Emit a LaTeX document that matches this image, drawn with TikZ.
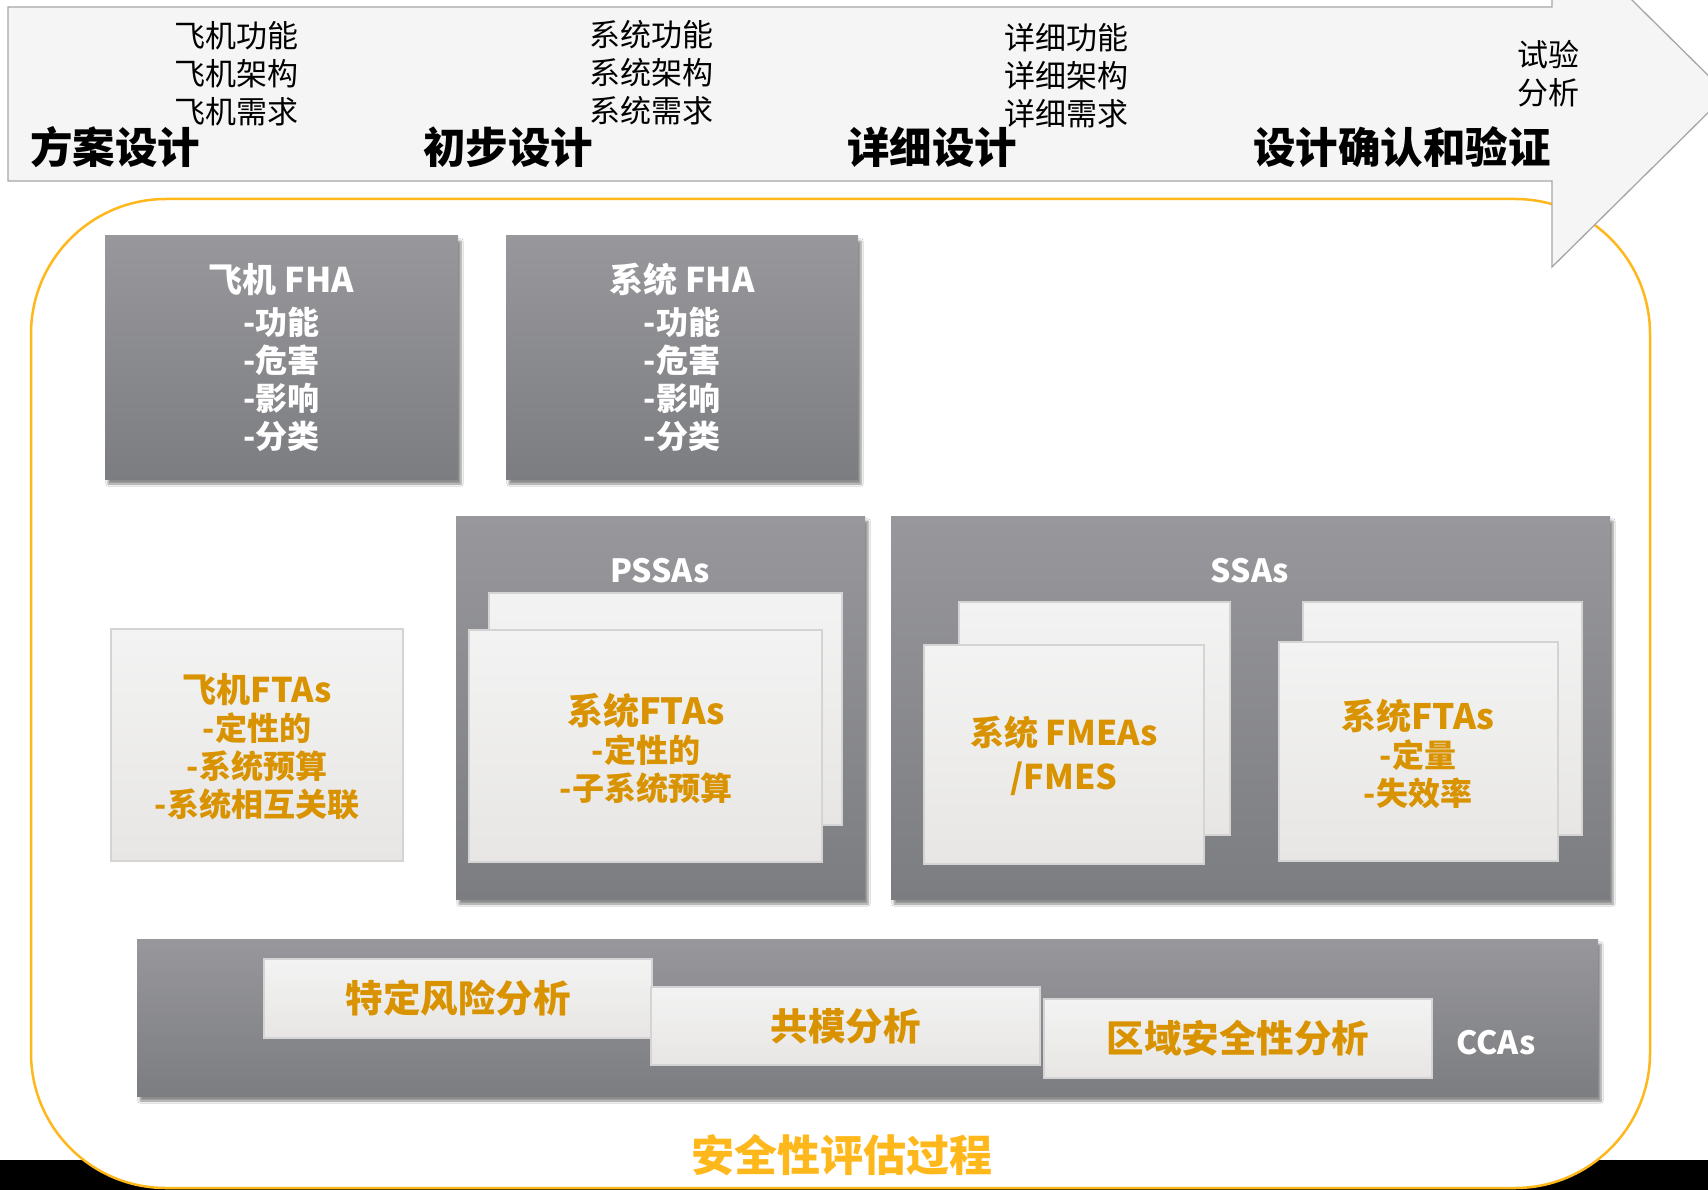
\documentclass[tikz,border=0pt]{standalone}
\usepackage{fontspec}
\setmainfont{Noto Sans CJK SC}
\usetikzlibrary{shadows.blur}
\definecolor{gtop}{HTML}{98989C}
\definecolor{gbot}{HTML}{7C7D81}
\definecolor{ctop}{HTML}{F3F3F3}
\definecolor{cbot}{HTML}{E7E6E4}
\definecolor{cline}{HTML}{D4D4D4}
\definecolor{otext}{HTML}{D99200}
\definecolor{obright}{HTML}{FFB81C}
\definecolor{afill}{HTML}{F5F5F5}
\definecolor{aline}{HTML}{A6A6A6}
\begin{document}
\begin{tikzpicture}[x=1pt,y=-1pt,
  graybox/.style={inner sep=0pt, outer sep=0pt, anchor=north west, top color=gtop, bottom color=gbot, draw=none,
    blur shadow={shadow xshift=3pt, shadow yshift=-5pt, shadow blur steps=6, shadow opacity=45}},
  card/.style={inner sep=0pt, outer sep=0pt, anchor=north west, top color=ctop, bottom color=cbot, draw=cline, line width=1.2pt},
  stage/.style={inner sep=0pt, anchor=west, text=black, font=\fontsize{42.5}{46}\selectfont\bfseries},
  sub/.style={inner sep=0pt, anchor=west, align=left, text=black, font=\fontsize{31}{38}\selectfont},
  wtext/.style={inner sep=0pt, align=center, text=white, font=\fontsize{32}{38}\selectfont\bfseries},
  otxt/.style={inner sep=0pt, align=center, text=otext, font=\fontsize{32}{38}\selectfont\bfseries},
  ccatext/.style={otxt, font=\fontsize{37.5}{40}\selectfont\bfseries}
]
\clip (0,0) rectangle (1708,1190);
\fill[white] (0,0) rectangle (1708,1190);
\fill[black] (0,1160) rectangle (1708,1190);
% safety assessment frame
\draw[obright, line width=2.5pt, fill=white, rounded corners=135pt] (31,199) rectangle (1650,1188);
% top process arrow
\draw[fill=afill, draw=aline, line width=1.3pt] (8,7) -- (1552,7) -- (1552,-79) -- (1727,94) -- (1552,267) -- (1552,181) -- (8,181) -- cycle;
\node[stage] (s1) at (30,147) {方案设计};
\node[stage] (s2) at (423,147) {初步设计};
\node[stage] (s3) at (847,147) {详细设计};
\node[stage] (s4) at (1253,147) {设计确认和验证};
\node[sub] (t1) at (174,74) {飞机功能\\飞机架构\\飞机需求};
\node[sub] (t2) at (589,73) {系统功能\\系统架构\\系统需求};
\node[sub] (t3) at (1004,76) {详细功能\\详细架构\\详细需求};
\node[sub] (t4) at (1517,74) {试验\\分析};
% FHA boxes
\node[graybox, minimum width=353pt, minimum height=243pt] (fha1) at (105,236) {};
\node[wtext] (fha1t) at (fha1.center) {{\fontsize{34}{38}\selectfont 飞机 FHA}\\[4pt]-功能\\-危害\\-影响\\-分类};
\node[graybox, minimum width=352pt, minimum height=243pt] (fha2) at (506,236) {};
\node[wtext] (fha2t) at (fha2.center) {{\fontsize{34}{38}\selectfont 系统 FHA}\\[4pt]-功能\\-危害\\-影响\\-分类};
% aircraft FTAs
\node[card, minimum width=292pt, minimum height=232pt] (afta) at (111,629) {};
\node[otxt] (aftat) at (257,747) {{\fontsize{34}{38}\selectfont 飞机FTAs}\\-定性的\\-系统预算\\-系统相互关联};
% PSSAs
\node[graybox, minimum width=409pt, minimum height=383pt] (pssa) at (456,516) {};
\node[wtext] (pssat) at (660,571) {PSSAs};
\node[card, minimum width=353pt, minimum height=232pt] (pback) at (489,593) {};
\node[card, minimum width=353pt, minimum height=232pt] (pfront) at (469,630) {};
\node[otxt] (pfrontt) at (646,749) {{\fontsize{36}{40}\selectfont 系统FTAs}\\-定性的\\-子系统预算};
% SSAs
\node[graybox, minimum width=719pt, minimum height=383pt] (ssa) at (891,516) {};
\node[wtext] (ssat) at (1250,571) {SSAs};
\node[card, minimum width=271pt, minimum height=233pt] (fback) at (959,602) {};
\node[card, minimum width=280pt, minimum height=219pt] (ffront) at (924,645) {};
\node[otxt, font=\fontsize{34}{44}\selectfont\bfseries] (ffrontt) at (1064,756) {系统 FMEAs\\/FMES};
\node[card, minimum width=279pt, minimum height=233pt] (qback) at (1303,602) {};
\node[card, minimum width=279pt, minimum height=219pt] (qfront) at (1279,642) {};
\node[otxt] (qfrontt) at (1418,754) {{\fontsize{35}{40}\selectfont 系统FTAs}\\-定量\\-失效率};
% CCAs
\node[graybox, minimum width=1461pt, minimum height=157pt] (cca) at (137,939) {};
\node[wtext, font=\fontsize{32}{38}\selectfont\bfseries] (ccat) at (1496,1043) {CCAs};
\node[card, minimum width=388pt, minimum height=79pt] (c1) at (264,959) {};
\node[ccatext] (c1t) at (c1.center) {特定风险分析};
\node[card, minimum width=389pt, minimum height=78pt] (c2) at (651,987) {};
\node[ccatext] (c2t) at (c2.center) {共模分析};
\node[card, minimum width=388pt, minimum height=79pt] (c3) at (1044,999) {};
\node[ccatext] (c3t) at (c3.center) {区域安全性分析};
% title
\node[inner sep=0pt, text=obright, font=\fontsize{43}{46}\selectfont\bfseries] (title) at (842,1155) {安全性评估过程};
\end{tikzpicture}
\end{document}
